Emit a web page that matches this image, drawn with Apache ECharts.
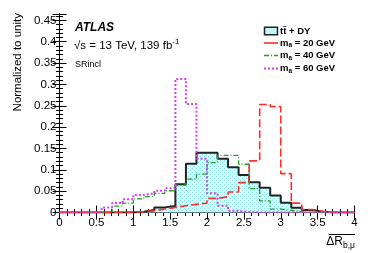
<!DOCTYPE html>
<html>
<head>
<meta charset="utf-8">
<script src="https://cdn.jsdelivr.net/npm/echarts@6/dist/echarts.min.js"></script>
<style>
html,body{margin:0;padding:0;background:#fff;}
#c{width:374px;height:253px;}
</style>
</head>
<body>
<div id="c"></div>
<script>
// 28 bins of width 1/7 over [0, 4]
const binCount = 28;
const xMin = 0, xMax = 4;
const xTicks = [0, 0.5, 1, 1.5, 2, 2.5, 3, 3.5, 4];
const yTicks = [0, 0.05, 0.1, 0.15, 0.2, 0.25, 0.3, 0.35, 0.4, 0.45];

const seriesNames = ['tt\u0304 + DY', 'm_a = 20 GeV', 'm_a = 40 GeV', 'm_a = 60 GeV'];

const ttDY = [0,0,0,0,0,0,0,0.002,0.006,0.012,0.015,0.066,0.114,0.140,0.140,0.126,0.106,0.088,0.071,0.058,0.040,0.023,0.011,0.006,0.002,0,0,0];
const ma20 = [0,0,0,0,0,0,0.001,0.002,0.004,0.008,0.012,0.016,0.019,0.022,0.033,0.037,0.048,0.070,0.121,0.253,0.248,0.091,0.022,0.007,0.003,0.001,0,0];
const ma40 = [0,0,0,0,0.003,0.015,0.022,0.032,0.037,0.045,0.051,0.064,0.078,0.090,0.117,0.134,0.134,0.113,0.056,0.027,0.008,0.005,0.002,0,0,0,0,0];
const ma60 = [0,0,0,0.002,0.012,0.022,0.031,0.041,0.045,0.051,0.057,0.313,0.254,0.126,0.045,0.016,0.004,0.001,0,0,0,0,0,0,0,0,0,0];

function histPoints(vals) {
  const w = (xMax - xMin) / binCount;
  const pts = vals.map((v, i) => [xMin + i * w, v]);
  pts.push([xMax, vals[vals.length - 1]]);
  return pts;
}

const FONT = '"Liberation Sans", Arial, Helvetica, sans-serif';
const chart = echarts.init(document.getElementById('c'), null, {renderer: 'canvas'});

const styles = [
  {color: '#222', width: 2, type: 'solid'},
  {color: '#ff2e2e', width: 1.6, type: [8, 3]},
  {color: '#1fa01f', width: 1.3, type: [5, 2, 1, 2]},
  {color: '#d83cf2', width: 2, type: [2, 2]}
];

// dotted cyan fill pattern
const pat = document.createElement('canvas');
pat.width = 4; pat.height = 4;
const pctx = pat.getContext('2d');
pctx.fillStyle = '#d6fbfb';
pctx.fillRect(0, 0, 4, 4);
pctx.fillStyle = '#86e6ec';
pctx.fillRect(0, 0, 1, 1);
pctx.fillRect(2, 2, 1, 1);
const fillPattern = {image: pat, repeat: 'repeat'};
const fillColor = '#c4f4f6';

const axisCommon = {
  axisLine: {show: true, lineStyle: {color: '#000', width: 1}},
  splitLine: {show: false},
};

function xAxisDef(pos, labels) {
  return Object.assign({
    type: 'value', position: pos, min: xMin, max: xMax, interval: 0.5,
    axisTick: {show: true, inside: true, length: 7, lineStyle: {color: '#000'}},
    minorTick: {show: true, splitNumber: 5, length: 3.5, lineStyle: {color: '#000'}},
    axisLabel: labels ? {show: true, margin: 4, fontFamily: FONT, fontSize: 11.5, color: '#000',
      formatter: v => (xTicks.indexOf(v) >= 0 ? String(v) : '')} : {show: false}
  }, axisCommon);
}
function yAxisDef(pos, labels) {
  return Object.assign({
    type: 'value', position: pos, min: 0, max: 0.465, interval: 0.05,
    axisTick: {show: true, inside: true, length: 7, lineStyle: {color: '#000'}},
    minorTick: {show: true, splitNumber: 5, length: 3.5, lineStyle: {color: '#000'}},
    axisLabel: labels ? {show: true, margin: 3, fontFamily: FONT, fontSize: 11.5, color: '#000',
      showMaxLabel: false,
      formatter: v => { const t = yTicks.find(y => Math.abs(y - v) < 1e-9); return t === undefined ? '' : String(t); }} : {show: false}
  }, axisCommon);
}

// legend drawn as graphic items
const legendX = 264, legendTextX = 280, legendRowsY = [31, 43, 55.5, 68.5];
const legendGraphics = [];
legendGraphics.push({type: 'rect', shape: {x: legendX + 0.5, y: legendRowsY[0] - 3.8, width: 13, height: 7.6},
  style: {fill: fillColor, stroke: '#222', lineWidth: 1.5}});
const legendDash = [null, null, [5, 2, 1, 2], [2, 2]];
for (let i = 1; i < 4; i++) {
  legendGraphics.push({type: 'line', shape: {x1: legendX, y1: legendRowsY[i], x2: legendX + 14, y2: legendRowsY[i]},
    style: {stroke: styles[i].color, lineWidth: styles[i].width, lineDash: legendDash[i]}});
}
const legRich = {
  t: {fontFamily: FONT, fontWeight: 'bold', fontSize: 9.5, lineHeight: 12, verticalAlign: 'middle', fill: '#000'},
  s: {fontFamily: FONT, fontWeight: 'bold', fontSize: 6.5, lineHeight: 6, verticalAlign: 'bottom', fill: '#000'}
};
seriesNames.forEach((name, i) => {
  const txt = name.indexOf('m_a') === 0 ? '{t|m}{s|a}{t|' + name.slice(3) + '}' : '{t|' + name + '}';
  legendGraphics.push({type: 'text', x: legendTextX, y: legendRowsY[i],
    style: {text: txt, verticalAlign: 'middle', rich: legRich}});
});

const option = {
  animation: false,
  backgroundColor: '#fff',
  grid: {left: 59.5, right: 19.5, top: 14, bottom: 40.5, containLabel: false},
  xAxis: [xAxisDef('bottom', true), xAxisDef('top', false)],
  yAxis: [yAxisDef('left', true), yAxisDef('right', false)],
  series: [
    {name: seriesNames[0], type: 'line', step: 'end', symbol: 'none', data: histPoints(ttDY),
      lineStyle: {color: styles[0].color, width: styles[0].width}, itemStyle: {color: styles[0].color},
      areaStyle: {color: fillPattern, opacity: 1}, z: 2},
    {name: seriesNames[2], type: 'line', step: 'end', symbol: 'none', data: histPoints(ma40),
      lineStyle: {color: styles[2].color, width: styles[2].width, type: styles[2].type}, itemStyle: {color: styles[2].color}, z: 3},
    {name: seriesNames[1], type: 'line', step: 'end', symbol: 'none', data: histPoints(ma20),
      lineStyle: {color: styles[1].color, width: styles[1].width, type: styles[1].type}, itemStyle: {color: styles[1].color}, z: 4},
    {name: seriesNames[3], type: 'line', step: 'end', symbol: 'none', data: histPoints(ma60),
      lineStyle: {color: styles[3].color, width: styles[3].width, type: styles[3].type}, itemStyle: {color: styles[3].color}, z: 5}
  ],
  graphic: [
    {type: 'text', x: 75, y: 28, style: {text: 'ATLAS', font: 'italic bold 12px ' + FONT, fill: '#000', verticalAlign: 'middle'}},
    {type: 'text', x: 74, y: 44.5, style: {
      text: '{n|\u221As = 13 TeV, 139 fb}{p|-1}', verticalAlign: 'middle', fill: '#000',
      rich: {
        n: {fontFamily: FONT, fontSize: 11.5, lineHeight: 14, verticalAlign: 'bottom', fill: '#000'},
        p: {fontFamily: FONT, fontSize: 8, lineHeight: 9, verticalAlign: 'top', fill: '#000'}
      }}},
    {type: 'text', x: 75, y: 64.5, style: {text: 'SRincl', font: '9px ' + FONT, fill: '#000', verticalAlign: 'middle'}},
    {type: 'text', x: 18, y: 13, rotation: Math.PI / 2, style: {text: 'Normalized to unity', font: '11.5px ' + FONT, fill: '#000', align: 'right', verticalAlign: 'middle'}},
    {type: 'text', x: 355, y: 243, style: {
      text: '{a|\u0394R}{b|b,\u03BC}', align: 'right', verticalAlign: 'middle',
      rich: {
        a: {fontFamily: FONT, fontSize: 12, lineHeight: 14, verticalAlign: 'top', fill: '#000'},
        b: {fontFamily: FONT, fontSize: 8.5, lineHeight: 9, verticalAlign: 'bottom', fill: '#000'}
      }}},
    {type: 'line', shape: {x1: 328.5, y1: 234.5, x2: 355, y2: 234.5}, style: {stroke: '#000', lineWidth: 1}}
  ].concat(legendGraphics)
};
chart.setOption(option);
</script>
</body>
</html>
